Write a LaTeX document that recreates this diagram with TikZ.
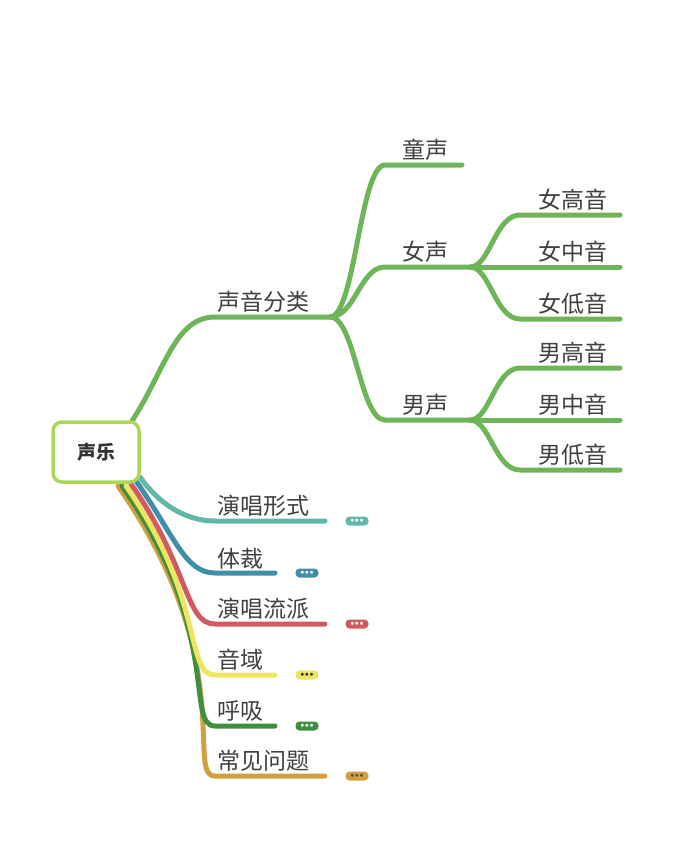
\documentclass[tikz,border=0pt]{standalone}
\usepackage{fontspec}
\setmainfont{Noto Sans CJK SC}
\begin{document}
\begin{tikzpicture}[x=1pt,y=-1pt,
  br/.style={line width=5pt,line cap=round,draw=#1},
  lbl/.style={font=\fontsize{23}{26}\selectfont,text=black!75,anchor=south west,inner sep=1pt},
  pill/.style={fill=#1,rounded corners=4pt,minimum width=23pt,minimum height=9pt,inner sep=0pt,font=\fontsize{7}{7}\selectfont\bfseries,text=white}]
\useasboundingbox (0,0) rectangle (700,865);
\definecolor{g}{HTML}{6DB556}
\definecolor{teal}{HTML}{5FB8A8}
\definecolor{blu}{HTML}{3F8FA8}
\definecolor{rd}{HTML}{D05A5F}
\definecolor{yl}{HTML}{EEE660}
\definecolor{dg}{HTML}{3F8F3F}
\definecolor{br}{HTML}{D0A040}
% green tree
\coordinate (rt) at (132,421);
\coordinate (a0) at (215,317); \coordinate (a1) at (330,317);
\draw[br=g] (rt) .. controls (165,370) and (175,317) .. (a0) -- (a1);
\node[lbl] (sy) at (216,314) {声音分类};
\foreach \n/\y/\e/\t in {tong/165/462/童声, nv/267/470/女声, nan/420/470/男声}{
  \coordinate (\n s) at (385,\y); \coordinate (\n e) at (\e,\y);
  \draw[br=g] (a1) .. controls (355,317) and (360,\y) .. (\n s) -- (\n e);
  \node[lbl] (\n l) at (401,\y-3) {\t};
}
\foreach \n/\y/\t in {f1/215/女高音, f2/267/女中音, f3/319/女低音}{
  \coordinate (\n s) at (520,\y); \coordinate (\n e) at (620,\y);
  \draw[br=g] (nve) .. controls (490,267) and (495,\y) .. (\n s) -- (\n e);
  \node[lbl] (\n l) at (537,\y-3) {\t};
}
\foreach \n/\y/\t in {m1/368/男高音, m2/420/男中音, m3/470/男低音}{
  \coordinate (\n s) at (520,\y); \coordinate (\n e) at (620,\y);
  \draw[br=g] (nane) .. controls (490,420) and (495,\y) .. (\n s) -- (\n e);
  \node[lbl] (\n l) at (537,\y-3) {\t};
}
% lower branches
\foreach \n/\c/\sx/\sy/\y/\e/\px/\t/\dc in {
  b6/br/118/486/776/325/357/常见问题/black!70,
  b5/dg/122/486/726/275/307/呼吸/white,
  b4/yl/126/486/675/275/307/音域/black!80,
  b3/rd/131/484/624/325/357/演唱流派/white,
  b2/blu/136/481/573/275/307/体裁/white,
  b1/teal/140/477/521/325/357/演唱形式/white}{
  \coordinate (\n s) at (\sx,\sy); \coordinate (\n h) at (215,\y); \coordinate (\n e) at (\e,\y);
  \draw[br=\c] (\n s) .. controls ({\sx+0.42*(\y-\sy)},{\sy+0.6*(\y-\sy)}) and (185,\y) .. (\n h) -- (\n e);
  \node[lbl] (\n l) at (216,\y-3) {\t};
  \node[pill=\c,text=\dc] (\n p) at (\px,\y) {$\bullet\!\bullet\!\bullet$};
}
% root
\node[draw={rgb,255:red,170;green,215;blue,90},line width=3.5pt,fill=white,rounded corners=9pt,
  minimum width=86pt,minimum height=60pt,font=\fontsize{19}{22}\selectfont\bfseries,text=black!80] (root) at (96,452) {声乐};
\end{tikzpicture}
\end{document}
